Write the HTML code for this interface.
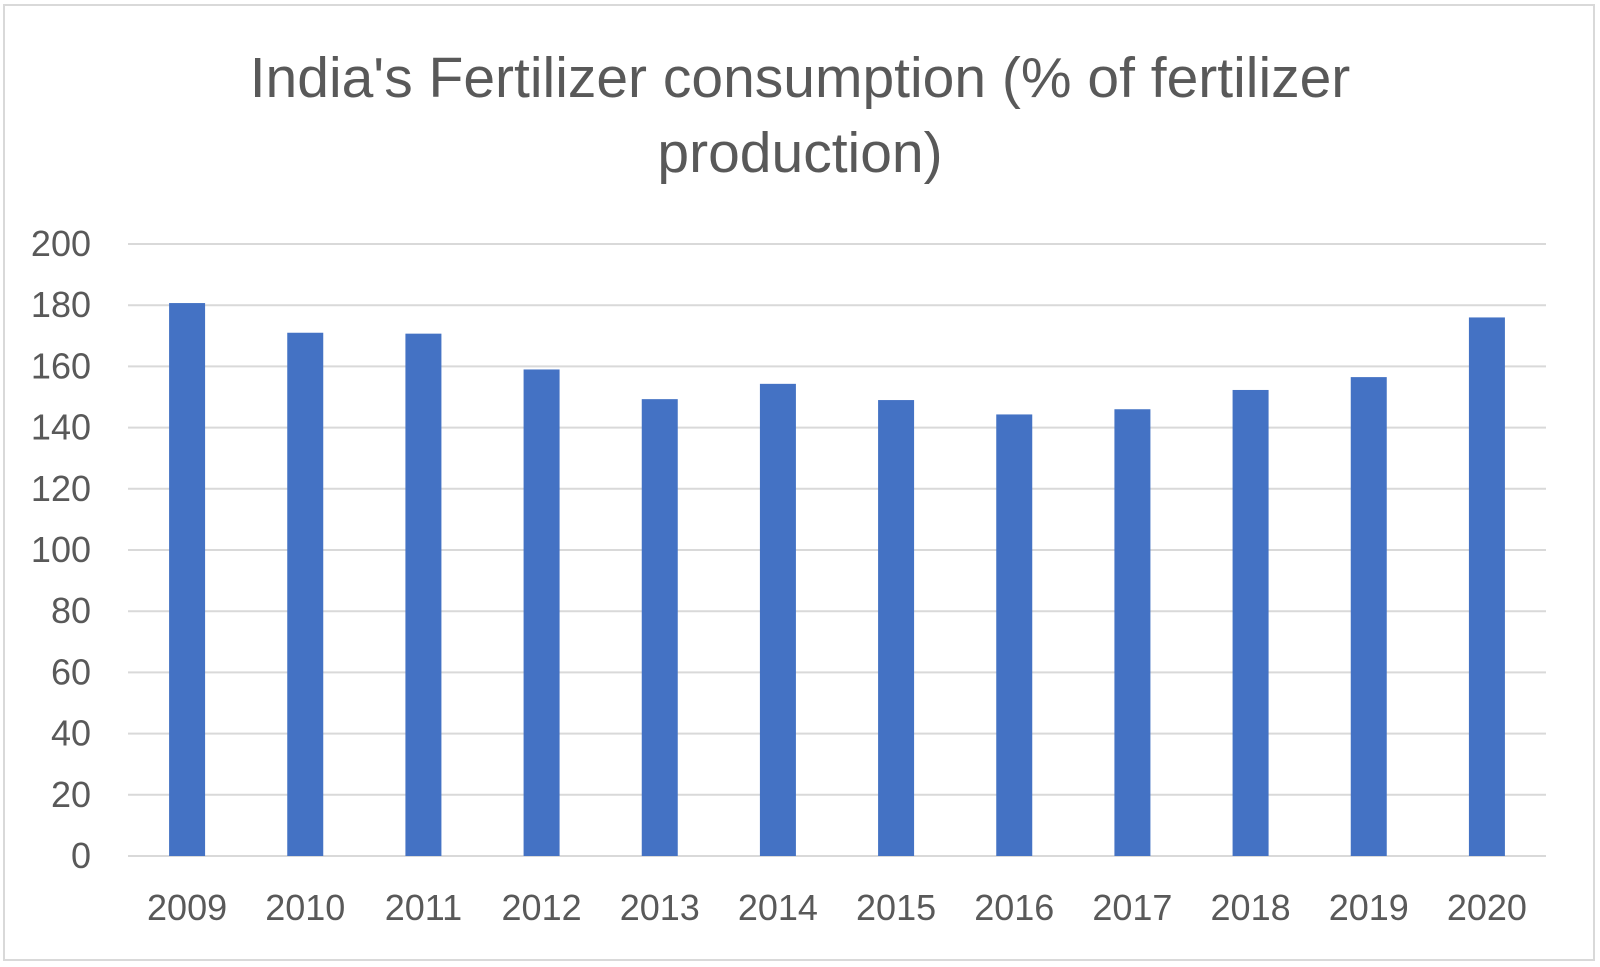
<!DOCTYPE html>
<html><head><meta charset="utf-8"><style>
body{margin:0;background:#fff;}
svg{display:block;font-family:"Liberation Sans",sans-serif;}
</style></head><body>
<svg id="chart" width="1600" height="967">
<rect x="4" y="5" width="1590" height="955" fill="#fff" stroke="#d9d9d9" stroke-width="2"/>
<text x="800" y="97" text-anchor="middle" font-size="57" fill="#595959">India's Fertilizer consumption (% of fertilizer</text>
<text x="800" y="172" text-anchor="middle" font-size="57" fill="#595959">production)</text>
<g id="grid"></g><g id="bars"></g><g id="labels"></g>
</svg>
<script>
const categories=["2009","2010","2011","2012","2013","2014","2015","2016","2017","2018","2019","2020"];
const values=[180.7,171,170.7,159,149.3,154.3,149,144.3,146,152.3,156.5,176];
const yTicks=[0,20,40,60,80,100,120,140,160,180,200];
const NS="http://www.w3.org/2000/svg";
const x0=128,x1=1546,yBase=856,yTop=244,yMax=200;
const band=(x1-x0)/categories.length;
function y(v){return yBase-(v/yMax)*(yBase-yTop);}
function xc(i){return x0+band*(i+0.5);}
const g=document.getElementById('grid'),b=document.getElementById('bars'),l=document.getElementById('labels');
yTicks.forEach(t=>{
 const ln=document.createElementNS(NS,'line');
 ln.setAttribute('x1',x0);ln.setAttribute('x2',x1);ln.setAttribute('y1',y(t));ln.setAttribute('y2',y(t));
 ln.setAttribute('stroke','#d9d9d9');ln.setAttribute('stroke-width','2');
 
 
 g.appendChild(ln);
 const tx=document.createElementNS(NS,'text');
 tx.setAttribute('x',91);tx.setAttribute('y',y(t)+12);tx.setAttribute('text-anchor','end');
 tx.setAttribute('font-size','36');tx.setAttribute('fill','#595959');tx.textContent=t;
 
 
 l.appendChild(tx);
});
categories.forEach((c,i)=>{
 const r=document.createElementNS(NS,'rect');
 r.setAttribute('x',xc(i)-18);r.setAttribute('width',36);
 r.setAttribute('y',y(values[i]));r.setAttribute('height',yBase-y(values[i]));
 r.setAttribute('fill','#4472c4');
 
 
 b.appendChild(r);
 const tx=document.createElementNS(NS,'text');
 tx.setAttribute('x',xc(i));tx.setAttribute('y',920);tx.setAttribute('text-anchor','middle');
 tx.setAttribute('font-size','36');tx.setAttribute('fill','#595959');tx.textContent=c;
 
 
 l.appendChild(tx);
});
</script>
</body></html>
